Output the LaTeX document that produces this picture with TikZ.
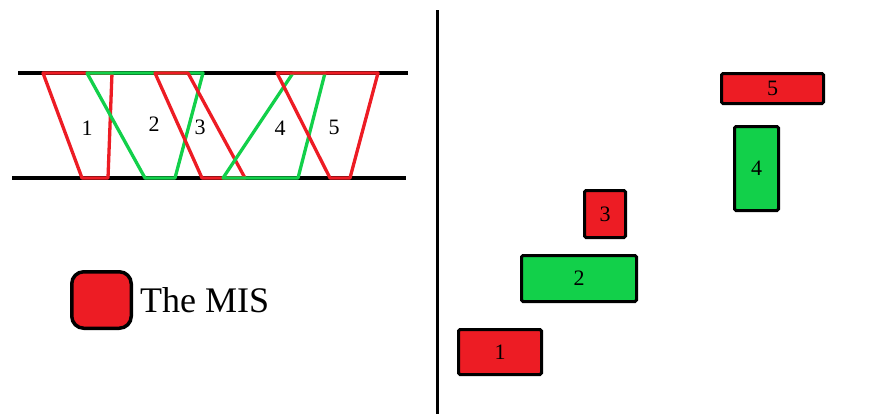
\documentclass[tikz,border=0pt]{standalone}
\usepackage{fontspec}
\setmainfont{Liberation Serif}
\definecolor{misred}{HTML}{ED1C24}
\definecolor{misgreen}{HTML}{12D04A}
\begin{document}
\begin{tikzpicture}[x=1pt,y=-1pt,
  rail/.style={line width=3.5pt},
  trapred/.style={draw=misred, line width=3.3pt, line join=round},
  trapgreen/.style={draw=misgreen, line width=3.3pt, line join=round},
  lbl/.style={font=\fontsize{22}{22}\selectfont, inner sep=0pt},
  box/.style={draw=black, line width=3pt, rounded corners=1.5pt, inner sep=0pt,
              font=\fontsize{22}{22}\selectfont},
  redbox/.style={box, fill=misred},
  greenbox/.style={box, fill=misgreen}]
\useasboundingbox (0,0) rectangle (885,415);
% rails
\draw[rail] (18,73) -- (408,73);
\draw[rail] (12,178) -- (406,178);
% trapezoids
\draw[trapred]   (43,73) -- (112,73) -- (108,178) -- (82,178) -- cycle;
\draw[trapgreen] (87,73) -- (203,73) -- (175,178) -- (145,178) -- cycle;
\draw[trapred]   (155,73) -- (188,73) -- (245,178) -- (202,178) -- cycle;
\draw[trapgreen] (293,73) -- (325,73) -- (298,178) -- (223,178) -- cycle;
\draw[trapred]   (277,73) -- (378,73) -- (350,178) -- (330,178) -- cycle;
\node[lbl] (t1) at (87,128) {1};
\node[lbl] (t2) at (154,124) {2};
\node[lbl] (t3) at (200,127) {3};
\node[lbl] (t4) at (280,128) {4};
\node[lbl] (t5) at (334,127) {5};
% legend
\node[draw=black, fill=misred, line width=3.5pt, rounded corners=12pt,
      minimum width=59.5pt, minimum height=56.5pt, inner sep=0pt] (leg) at (101.5,300) {};
\node[anchor=base west, inner sep=0pt, font=\fontsize{36}{36}\selectfont] (legtext) at (140,312) {The MIS};
% divider
\draw[line width=3pt] (437,10) -- (437,414);
% boxes
\node[redbox,   minimum width=83pt,  minimum height=45pt] (b1) at (500,352)   {1};
\node[greenbox, minimum width=115pt, minimum height=46pt] (b2) at (579,278.5) {2};
\node[redbox,   minimum width=41pt,  minimum height=47pt] (b3) at (605,214)   {3};
\node[greenbox, minimum width=44pt,  minimum height=84pt] (b4) at (756.5,168.5) {4};
\node[redbox,   minimum width=102pt, minimum height=30pt] (b5) at (772.5,88.5) {5};
\end{tikzpicture}
\end{document}
